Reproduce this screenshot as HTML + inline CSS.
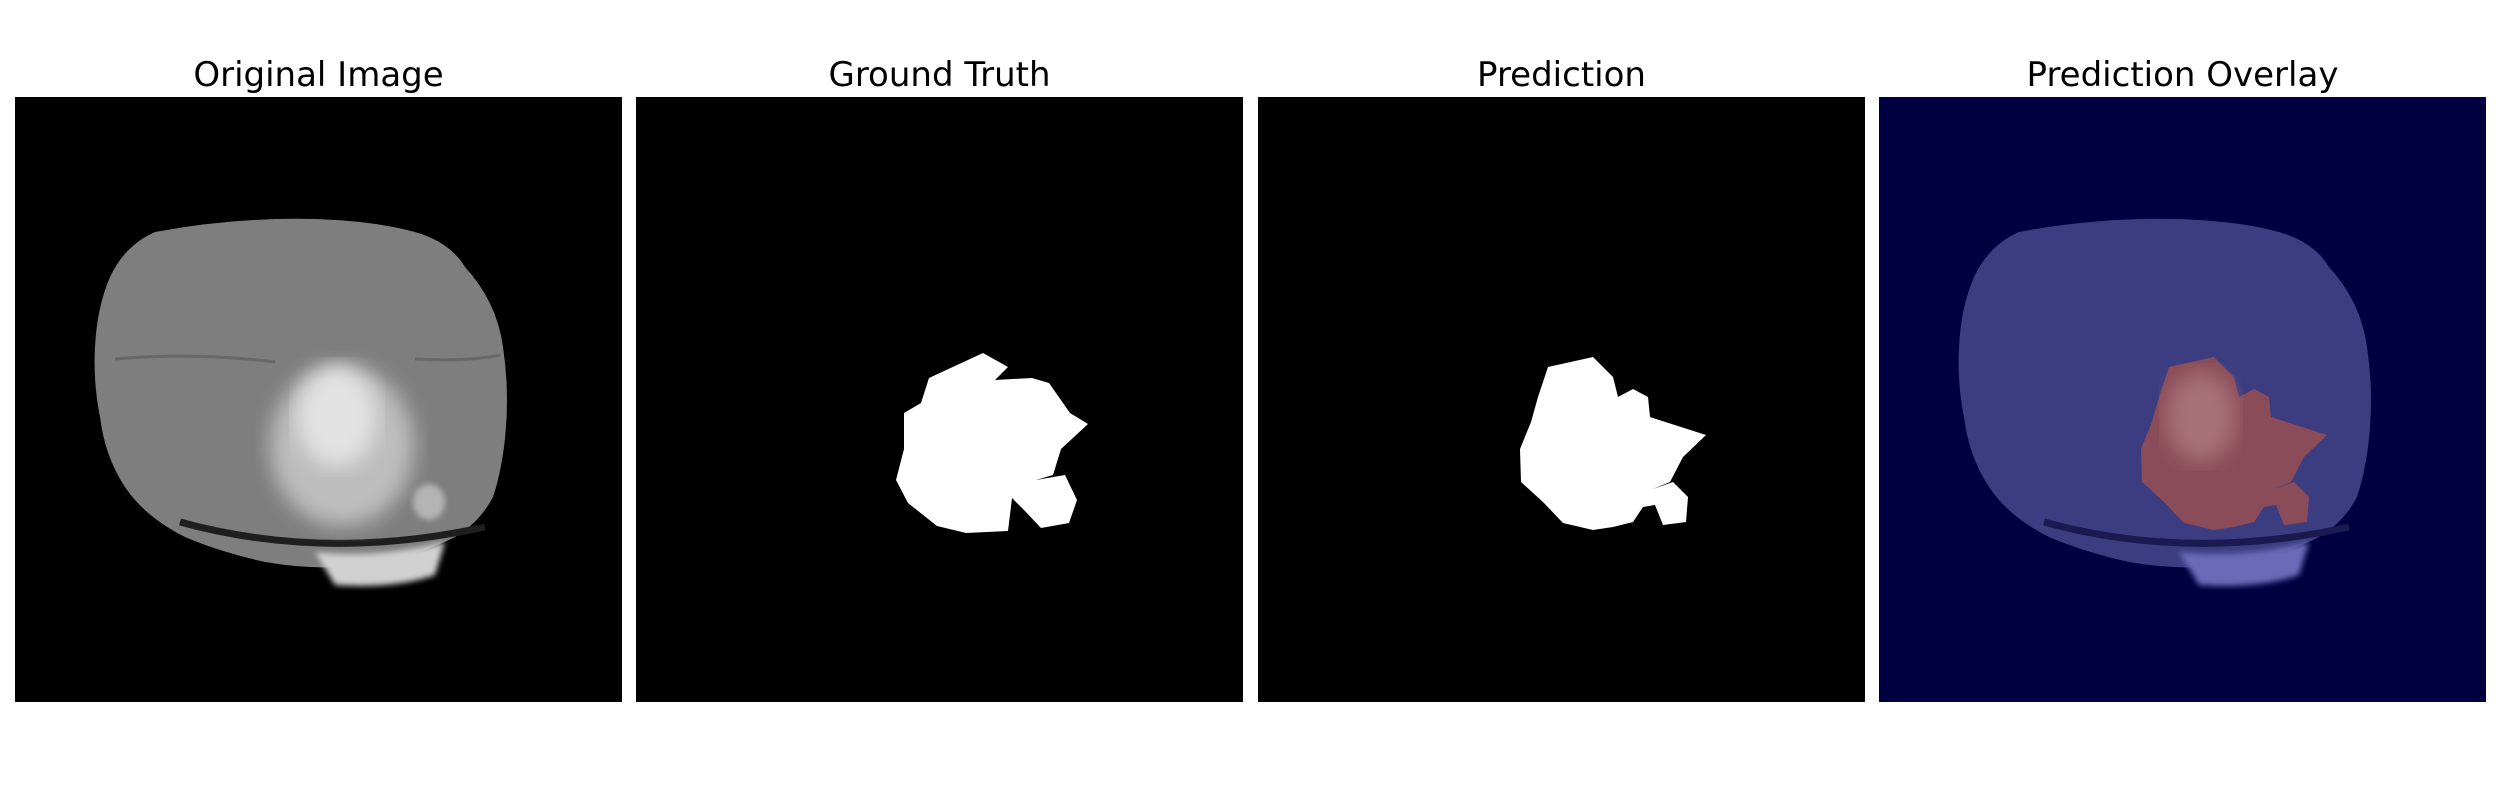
<!DOCTYPE html>
<html><head><meta charset="utf-8"><style>
html,body{margin:0;padding:0;background:#fff;width:2500px;height:800px;overflow:hidden}
.t{position:absolute;top:55px;font-family:"DejaVu Sans","Liberation Sans",sans-serif;font-size:34px;color:#000;text-align:center;width:607px}
svg{position:absolute;top:97px}
</style></head><body>
<div class="t" style="left:15px">Original Image</div>
<div class="t" style="left:636px">Ground Truth</div>
<div class="t" style="left:1258px">Prediction</div>
<div class="t" style="left:1879px">Prediction Overlay</div>

<svg style="left:15px" width="607" height="605" viewBox="0 0 607 605">
<defs>
<filter id="bl"><feGaussianBlur stdDeviation="10"/></filter>
<filter id="bl3"><feGaussianBlur stdDeviation="3"/></filter>
</defs>
<rect width="607" height="605" fill="#000"/>
<path d="M140,135 Q220,120 300,122 Q360,124 400,135 Q435,145 450,170 Q482,205 488,250 Q494,290 491,330 Q488,370 478,400 Q465,425 440,440 Q390,465 330,470 Q290,472 250,465 Q205,455 170,440 Q130,420 110,390 Q90,360 85,320 Q78,285 80,250 Q82,210 95,180 Q110,148 140,135Z" fill="#7e7e7e"/>
<path d="M300,455 Q360,462 430,445 L420,478 Q380,492 320,488Z" fill="#d0d0d0" filter="url(#bl3)"/>
<path d="M165,425 Q310,465 470,430" stroke="#1e1e1e" stroke-width="7" fill="none"/>
<path d="M100,262 Q180,255 260,265 M400,262 Q450,265 485,258" stroke="#5a5a5a" stroke-width="3" fill="none" opacity="0.6"/>
<ellipse cx="327" cy="349" rx="72" ry="80" fill="#bdbdbd" filter="url(#bl)"/>
<ellipse cx="322" cy="320" rx="40" ry="50" fill="#e2e2e2" filter="url(#bl)"/>
<ellipse cx="414" cy="405" rx="16" ry="18" fill="#b4b4b4" filter="url(#bl3)"/>
</svg>

<svg style="left:636px" width="607" height="605" viewBox="0 0 607 605">
<rect width="607" height="605" fill="#000"/>
<path fill="#fff" d="M293,281 L347,256 L372,270 L359,283 L396,281 L413,286 L434,316 L452,327 L425,352 L417,378 L400,383 L429,378 L441,403 L433,426 L405,431 L388,413 L376,401 L372,434 L330,436 L301,429 L272,406 L260,383 L268,352 L268,316 L285,306Z"/>
</svg>

<svg style="left:1258px" width="607" height="605" viewBox="0 0 607 605">
<rect width="607" height="605" fill="#000"/>
<path fill="#fff" d="M290,270 L335,260 L355,280 L360,300 L375,292 L390,300 L392,320 L448,338 L425,360 L412,385 L395,392 L415,385 L430,400 L428,425 L405,428 L397,408 L385,410 L375,425 L355,430 L335,433 L305,426 L285,405 L263,385 L262,352 L273,325 L280,300Z"/>
</svg>

<svg style="left:1879px" width="607" height="605" viewBox="0 0 607 605">
<defs><filter id="bl2"><feGaussianBlur stdDeviation="10"/></filter><filter id="bl4"><feGaussianBlur stdDeviation="3"/></filter></defs>
<rect width="607" height="605" fill="#000040"/>
<path d="M140,135 Q220,120 300,122 Q360,124 400,135 Q435,145 450,170 Q482,205 488,250 Q494,290 491,330 Q488,370 478,400 Q465,425 440,440 Q390,465 330,470 Q290,472 250,465 Q205,455 170,440 Q130,420 110,390 Q90,360 85,320 Q78,285 80,250 Q82,210 95,180 Q110,148 140,135Z" fill="#3c3c80"/>
<path d="M300,455 Q360,462 430,445 L420,478 Q380,492 320,488Z" fill="#6a6ab8" filter="url(#bl4)"/>
<path d="M165,425 Q310,465 470,430" stroke="#1a1a50" stroke-width="7" fill="none"/>
<path fill="#8a4c58" d="M290,270 L335,260 L355,280 L360,300 L375,292 L390,300 L392,320 L448,338 L425,360 L412,385 L395,392 L415,385 L430,400 L428,425 L405,428 L397,408 L385,410 L375,425 L355,430 L335,433 L305,426 L285,405 L263,385 L262,352 L273,325 L280,300Z"/>
<ellipse cx="322" cy="320" rx="35" ry="45" fill="#b07a80" filter="url(#bl2)" opacity="0.8"/>
</svg>
</body></html>
